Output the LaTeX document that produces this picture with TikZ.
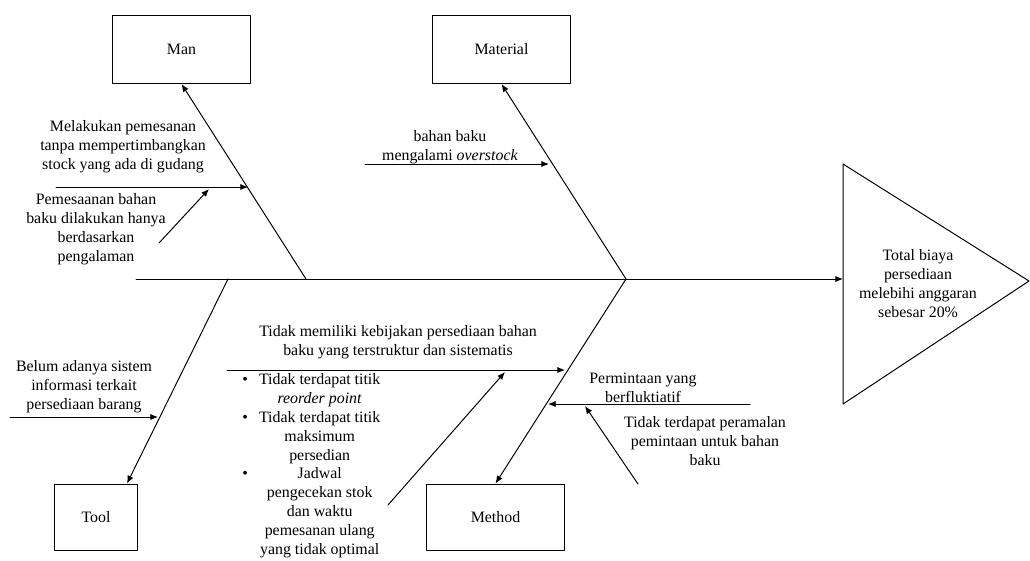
\documentclass[tikz,border=0pt]{standalone}
\usepackage{fontspec}
\setmainfont{Liberation Serif}
\usetikzlibrary{arrows.meta}
\begin{document}
\begin{tikzpicture}[x=0.025cm,y=-0.025cm,line cap=round,line join=round,>={Latex[length=5.5pt,width=4.5pt]},
  every node/.style={font=\fontsize{11.3pt}{13.5pt}\selectfont},
  box/.style={draw,line width=0.7pt,inner sep=0pt},
  lbl/.style={align=center,inner sep=0pt},
  bone/.style={line width=0.7pt,->}]
  \useasboundingbox (0,0) rectangle (1030,560);
  % category boxes
  \node[box,minimum width=3.45cm,minimum height=1.7cm] (man) at (181.5,49.5) {Man};
  \node[box,minimum width=3.45cm,minimum height=1.7cm] (material) at (501.5,49.5) {Material};
  \node[box,minimum width=2.05cm,minimum height=1.65cm] (tool) at (96,517) {Tool};
  \node[box,minimum width=3.425cm,minimum height=1.65cm] (method) at (495.5,517) {Method};
  % head
  \coordinate (headtop) at (843,164);
  \coordinate (headbot) at (843,404);
  \coordinate (headtip) at (1029,281);
  \draw[line width=0.7pt] (headtop) -- (headtip) -- (headbot) -- cycle;
  \node[lbl] (effect) at (918,284) {Total biaya\\persediaan\\melebihi anggaran\\sebesar 20\%};
  % spine and main bones
  \coordinate (tail) at (136,279);
  \coordinate (head) at (843,279);
  \coordinate (manroot) at (306,279);
  \coordinate (matroot) at (626,279);
  \coordinate (toolroot) at (228,279);
  \draw[bone] (tail) -- (head);
  \draw[bone] (manroot) -- (man.south);
  \draw[bone] (matroot) -- (material.south);
  \draw[bone] (toolroot) -- ([xshift=0.775cm]tool.north);
  \draw[bone] (matroot) -- (method.north);
  % man
  \coordinate (m1s) at (56,187);
  \coordinate (m1e) at (248,187);
  \coordinate (m2s) at (159,243);
  \coordinate (m2e) at (209,189);
  \draw[bone] (m1s) -- (m1e);
  \draw[bone] (m2s) -- (m2e);
  \node[lbl] (man1) at (123,147) {Melakukan pemesanan\\tanpa mempertimbangkan\\stock yang ada di gudang};
  \node[lbl] (man2) at (96,229) {Pemesaanan bahan\\baku dilakukan hanya\\berdasarkan\\pengalaman};
  % material
  \coordinate (mt1s) at (365,164);
  \coordinate (mt1e) at (549,164);
  \draw[bone] (mt1s) -- (mt1e);
  \node[lbl] (mat1) at (450,147.5) {bahan baku\\mengalami \textit{overstock}};
  % tool
  \coordinate (t1s) at (10,417);
  \coordinate (t1e) at (158,417);
  \draw[bone] (t1s) -- (t1e);
  \node[lbl] (tool1) at (84,387) {Belum adanya sistem\\informasi terkait\\persediaan barang};
  % method
  \coordinate (me1s) at (227,370);
  \coordinate (me1e) at (565,370);
  \coordinate (me2s) at (388,505);
  \coordinate (me2e) at (505,372);
  \coordinate (me3s) at (750,404);
  \coordinate (me3e) at (548,404);
  \coordinate (me4s) at (638,484);
  \coordinate (me4e) at (585,406);
  \draw[bone] (me1s) -- (me1e);
  \draw[bone] (me2s) -- (me2e);
  \draw[bone] (me3s) -- (me3e);
  \draw[bone] (me4s) -- (me4e);
  \node[lbl] (meth1) at (398,342.5) {Tidak memiliki kebijakan persediaan bahan\\baku yang terstruktur dan sistematis};
  \node[inner sep=0pt,anchor=north west] (meth2) at (242,370.5) {\begin{tabular}{@{}c@{\hspace{8pt}}c@{}}
    \textbullet & Tidak terdapat titik\\
     & \textit{reorder point}\\
    \textbullet & Tidak terdapat titik\\
     & maksimum\\
     & persedian\\
    \textbullet & Jadwal\\
     & pengecekan stok\\
     & dan waktu\\
     & pemesanan ulang\\
     & yang tidak optimal
  \end{tabular}};
  \node[lbl] (meth3) at (643,387.5) {Permintaan yang\\berfluktiatif};
  \node[lbl] (meth4) at (705,441) {Tidak terdapat peramalan\\pemintaan untuk bahan\\baku};
\end{tikzpicture}
\end{document}
